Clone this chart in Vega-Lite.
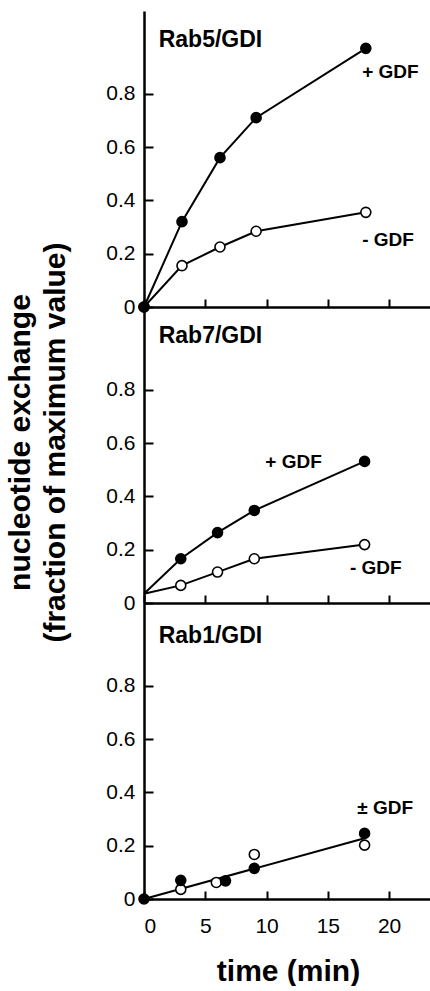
{
  "$schema": "https://vega.github.io/schema/vega-lite/v6.json",
  "padding": {"left": 5, "top": 11, "right": 0, "bottom": 0},
  "spacing": 0,
  "bounds": "flush",
  "background": "white",
  "config": {
    "view": {"stroke": null},
    "font": "Liberation Sans",
    "axis": {
      "domainColor": "black", "domainWidth": 2.5, "tickColor": "black", "tickWidth": 2,
      "grid": false, "labelFont": "Liberation Sans", "labelFontSize": 21, "labelColor": "black",
      "titleColor": "black", "titleFont": "Liberation Sans", "titleFontWeight": "bold", "titleFontSize": 30
    }
  },
  "datasets": {
    "lines": [
      {"panel": "Rab5", "series": "plus", "t": 0, "v": 0},
      {"panel": "Rab5", "series": "plus", "t": 3.1, "v": 0.32},
      {"panel": "Rab5", "series": "plus", "t": 6.2, "v": 0.56},
      {"panel": "Rab5", "series": "plus", "t": 9.15, "v": 0.71},
      {"panel": "Rab5", "series": "plus", "t": 18.1, "v": 0.97},
      {"panel": "Rab5", "series": "minus", "t": 0, "v": 0},
      {"panel": "Rab5", "series": "minus", "t": 3.1, "v": 0.155},
      {"panel": "Rab5", "series": "minus", "t": 6.2, "v": 0.225},
      {"panel": "Rab5", "series": "minus", "t": 9.15, "v": 0.284},
      {"panel": "Rab5", "series": "minus", "t": 18.1, "v": 0.355},
      {"panel": "Rab7", "series": "plus", "t": 0, "v": 0.035},
      {"panel": "Rab7", "series": "plus", "t": 3, "v": 0.166},
      {"panel": "Rab7", "series": "plus", "t": 6, "v": 0.264},
      {"panel": "Rab7", "series": "plus", "t": 9, "v": 0.347},
      {"panel": "Rab7", "series": "plus", "t": 18, "v": 0.531},
      {"panel": "Rab7", "series": "minus", "t": 0, "v": 0.035},
      {"panel": "Rab7", "series": "minus", "t": 3, "v": 0.066},
      {"panel": "Rab7", "series": "minus", "t": 6, "v": 0.116},
      {"panel": "Rab7", "series": "minus", "t": 9, "v": 0.166},
      {"panel": "Rab7", "series": "minus", "t": 18, "v": 0.219},
      {"panel": "Rab1", "series": "fit", "t": 0, "v": 0},
      {"panel": "Rab1", "series": "fit", "t": 18, "v": 0.228}
    ],
    "points": [
      {"panel": "Rab5", "series": "minus", "t": 0, "v": 0},
      {"panel": "Rab5", "series": "minus", "t": 3.1, "v": 0.155},
      {"panel": "Rab5", "series": "minus", "t": 6.2, "v": 0.225},
      {"panel": "Rab5", "series": "minus", "t": 9.15, "v": 0.284},
      {"panel": "Rab5", "series": "minus", "t": 18.1, "v": 0.355},
      {"panel": "Rab5", "series": "plus", "t": 0, "v": 0},
      {"panel": "Rab5", "series": "plus", "t": 3.1, "v": 0.32},
      {"panel": "Rab5", "series": "plus", "t": 6.2, "v": 0.56},
      {"panel": "Rab5", "series": "plus", "t": 9.15, "v": 0.71},
      {"panel": "Rab5", "series": "plus", "t": 18.1, "v": 0.97},
      {"panel": "Rab7", "series": "minus", "t": 3, "v": 0.066},
      {"panel": "Rab7", "series": "minus", "t": 6, "v": 0.116},
      {"panel": "Rab7", "series": "minus", "t": 9, "v": 0.166},
      {"panel": "Rab7", "series": "minus", "t": 18, "v": 0.219},
      {"panel": "Rab7", "series": "plus", "t": 3, "v": 0.166},
      {"panel": "Rab7", "series": "plus", "t": 6, "v": 0.264},
      {"panel": "Rab7", "series": "plus", "t": 9, "v": 0.347},
      {"panel": "Rab7", "series": "plus", "t": 18, "v": 0.531},
      {"panel": "Rab1", "series": "minus", "t": 3, "v": 0.036},
      {"panel": "Rab1", "series": "minus", "t": 5.9, "v": 0.062},
      {"panel": "Rab1", "series": "minus", "t": 9, "v": 0.167},
      {"panel": "Rab1", "series": "minus", "t": 18, "v": 0.202},
      {"panel": "Rab1", "series": "plus", "t": 0, "v": 0},
      {"panel": "Rab1", "series": "plus", "t": 3, "v": 0.07},
      {"panel": "Rab1", "series": "plus", "t": 6.65, "v": 0.068},
      {"panel": "Rab1", "series": "plus", "t": 9, "v": 0.115},
      {"panel": "Rab1", "series": "plus", "t": 18, "v": 0.246}
    ],
    "labels": [
      {"panel": "Rab5", "kind": "head", "t": 1.2, "v": 0.975, "text": "Rab5/GDI"},
      {"panel": "Rab5", "kind": "series", "t": 17.8, "v": 0.88, "text": "+ GDF"},
      {"panel": "Rab5", "kind": "series", "t": 17.8, "v": 0.25, "text": "- GDF"},
      {"panel": "Rab7", "kind": "head", "t": 1.2, "v": 0.975, "text": "Rab7/GDI"},
      {"panel": "Rab7", "kind": "series", "t": 9.9, "v": 0.527, "text": "+ GDF"},
      {"panel": "Rab7", "kind": "series", "t": 16.8, "v": 0.13, "text": "- GDF"},
      {"panel": "Rab1", "kind": "head", "t": 1.2, "v": 0.96, "text": "Rab1/GDI"},
      {"panel": "Rab1", "kind": "series", "t": 17.4, "v": 0.342, "text": "± GDF"}
    ]
  },
  "vconcat": [
    {
      "width": 288, "height": 296,
      "encoding": {
        "x": {"field": "t", "type": "quantitative", "scale": {"domain": [0, 23.5], "nice": false},
              "axis": {"values": [0, 5, 10, 15, 20], "tickSize": -8, "labels": false, "title": null}},
        "y": {"field": "v", "type": "quantitative", "scale": {"domain": [0, 1.11], "nice": false},
              "axis": {"values": [0, 0.2, 0.4, 0.6, 0.8], "tickSize": -9, "labelPadding": 18,
                       "labelExpr": "datum.value == 0 ? '0' : format(datum.value, '.1f')", "title": null}}
      },
      "layer": [
        {"mark": {"type": "rule", "color": "black", "strokeWidth": 2.5}, "encoding": {"x": null, "y": {"datum": 1.11}}},
        {"data": {"name": "lines"}, "transform": [{"filter": "datum.panel == 'Rab5'"}],
         "mark": {"type": "line", "color": "black", "strokeWidth": 2},
         "encoding": {"detail": {"field": "series"}, "order": {"field": "t"}}},
        {"data": {"name": "points"}, "transform": [{"filter": "datum.panel == 'Rab5'"}],
         "mark": {"type": "point", "shape": "circle", "size": 100, "opacity": 1, "filled": true, "stroke": "black", "strokeWidth": 1.6},
         "encoding": {"fill": {"field": "series", "scale": {"domain": ["plus", "minus"], "range": ["black", "white"]}, "legend": null}}},
        {"data": {"name": "labels"}, "transform": [{"filter": "datum.panel == 'Rab5' && datum.kind == 'head'"}],
         "mark": {"type": "text", "align": "left", "baseline": "alphabetic", "fontWeight": "bold", "fontSize": 23, "color": "black"},
         "encoding": {"text": {"field": "text"}}},
        {"data": {"name": "labels"}, "transform": [{"filter": "datum.panel == 'Rab5' && datum.kind == 'series'"}],
         "mark": {"type": "text", "align": "left", "baseline": "middle", "fontWeight": "bold", "fontSize": 19, "color": "black"},
         "encoding": {"text": {"field": "text"}}}
      ]
    },
    {
      "width": 288, "height": 296,
      "encoding": {
        "x": {"field": "t", "type": "quantitative", "scale": {"domain": [0, 23.5], "nice": false},
              "axis": {"values": [0, 5, 10, 15, 20], "tickSize": -8, "labels": false, "title": null}},
        "y": {"field": "v", "type": "quantitative", "scale": {"domain": [0, 1.11], "nice": false},
              "axis": {"values": [0, 0.2, 0.4, 0.6, 0.8], "tickSize": -9, "labelPadding": 18,
                       "labelExpr": "datum.value == 0 ? '0' : format(datum.value, '.1f')",
                       "title": ["nucleotide exchange", "(fraction of maximum value)"], "titlePadding": 35,
                       "titleFontSize": 30, "titleLineHeight": 35, "titleY": 135}}
      },
      "layer": [
        {"data": {"name": "lines"}, "transform": [{"filter": "datum.panel == 'Rab7'"}],
         "mark": {"type": "line", "color": "black", "strokeWidth": 2},
         "encoding": {"detail": {"field": "series"}, "order": {"field": "t"}}},
        {"data": {"name": "points"}, "transform": [{"filter": "datum.panel == 'Rab7'"}],
         "mark": {"type": "point", "shape": "circle", "size": 100, "opacity": 1, "filled": true, "stroke": "black", "strokeWidth": 1.6},
         "encoding": {"fill": {"field": "series", "scale": {"domain": ["plus", "minus"], "range": ["black", "white"]}, "legend": null}}},
        {"data": {"name": "labels"}, "transform": [{"filter": "datum.panel == 'Rab7' && datum.kind == 'head'"}],
         "mark": {"type": "text", "align": "left", "baseline": "alphabetic", "fontWeight": "bold", "fontSize": 23, "color": "black"},
         "encoding": {"text": {"field": "text"}}},
        {"data": {"name": "labels"}, "transform": [{"filter": "datum.panel == 'Rab7' && datum.kind == 'series'"}],
         "mark": {"type": "text", "align": "left", "baseline": "middle", "fontWeight": "bold", "fontSize": 19, "color": "black"},
         "encoding": {"text": {"field": "text"}}}
      ]
    },
    {
      "width": 288, "height": 296,
      "encoding": {
        "x": {"field": "t", "type": "quantitative", "scale": {"domain": [0, 23.5], "nice": false},
              "axis": {"values": [0, 5, 10, 15, 20], "tickSize": -8, "labelPadding": 24, "title": "time (min)", "titleFontSize": 30, "titlePadding": 20}},
        "y": {"field": "v", "type": "quantitative", "scale": {"domain": [0, 1.11], "nice": false},
              "axis": {"values": [0, 0.2, 0.4, 0.6, 0.8], "tickSize": -9, "labelPadding": 18,
                       "labelExpr": "datum.value == 0 ? '0' : format(datum.value, '.1f')", "title": null}}
      },
      "layer": [
        {"data": {"name": "lines"}, "transform": [{"filter": "datum.panel == 'Rab1'"}],
         "mark": {"type": "line", "color": "black", "strokeWidth": 2},
         "encoding": {"detail": {"field": "series"}, "order": {"field": "t"}}},
        {"data": {"name": "points"}, "transform": [{"filter": "datum.panel == 'Rab1'"}],
         "mark": {"type": "point", "shape": "circle", "size": 100, "opacity": 1, "filled": true, "stroke": "black", "strokeWidth": 1.6},
         "encoding": {"fill": {"field": "series", "scale": {"domain": ["plus", "minus"], "range": ["black", "white"]}, "legend": null}}},
        {"data": {"name": "labels"}, "transform": [{"filter": "datum.panel == 'Rab1' && datum.kind == 'head'"}],
         "mark": {"type": "text", "align": "left", "baseline": "alphabetic", "fontWeight": "bold", "fontSize": 23, "color": "black"},
         "encoding": {"text": {"field": "text"}}},
        {"data": {"name": "labels"}, "transform": [{"filter": "datum.panel == 'Rab1' && datum.kind == 'series'"}],
         "mark": {"type": "text", "align": "left", "baseline": "middle", "fontWeight": "bold", "fontSize": 19, "color": "black"},
         "encoding": {"text": {"field": "text"}}}
      ]
    }
  ]
}
